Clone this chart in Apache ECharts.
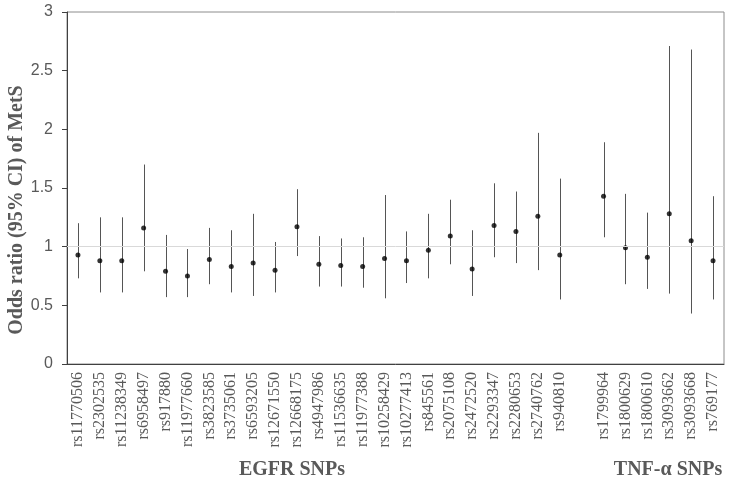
<!DOCTYPE html>
<html>
<head>
<meta charset="utf-8">
<script src="https://cdn.jsdelivr.net/npm/echarts@6/dist/echarts.min.js"></script>
<style>
	html, body { margin:0; padding:0; background:#fff; }
	#chart { width:732px; height:485px; }
</style>
</head>
<body>
<div id="chart"></div>
<script>
// SNP names, '' is the gap between the two gene groups
var snps = ['rs11770506','rs2302535','rs11238349','rs6958497','rs917880','rs11977660','rs3823585','rs3735061',
	'rs6593205','rs12671550','rs12668175','rs4947986','rs11536635','rs11977388','rs10258429','rs10277413',
	'rs845561','rs2075108','rs2472520','rs2293347','rs2280653','rs2740762','rs940810','',
	'rs1799964','rs1800629','rs1800610','rs3093662','rs3093668','rs769177'];
var oddsRatio = [0.93,0.88,0.88,1.16,0.79,0.75,0.89,0.83,0.86,0.80,1.17,0.85,0.84,0.83,0.90,0.88,
	0.97,1.09,0.81,1.18,1.13,1.26,0.93,null,1.43,0.99,0.91,1.28,1.05,0.88];
var ciLow = [0.73,0.61,0.61,0.79,0.57,0.57,0.68,0.61,0.58,0.61,0.92,0.66,0.66,0.65,0.56,0.69,
	0.73,0.85,0.58,0.91,0.86,0.80,0.55,null,1.08,0.68,0.64,0.60,0.43,0.55];
var ciHigh = [1.20,1.25,1.25,1.70,1.10,0.98,1.16,1.14,1.28,1.04,1.49,1.09,1.07,1.08,1.44,1.13,
	1.28,1.40,1.14,1.54,1.47,1.97,1.58,null,1.89,1.45,1.29,2.71,2.68,1.43];
var yTicks = [0, 0.5, 1, 1.5, 2, 2.5, 3];

var grey = '#595959';

var ciData = [];
var pointData = [];
for( var i = 0; i < snps.length; i++ ){
	if( oddsRatio[i] === null ){
		pointData.push( '-' );
		continue;
	}
	ciData.push( [i, ciLow[i], ciHigh[i]] );
	pointData.push( oddsRatio[i] );
}

var chart = echarts.init( document.getElementById( 'chart' ) );
chart.setOption( {
	animation:false,
	grid:{
		left:67, right:8, top:12, bottom:121,
		show:true,
		borderColor:'#8c8c8c',
		borderWidth:1,
		backgroundColor:'transparent'
	},
	xAxis:{
		type:'category',
		data:snps,
		axisLine:{ lineStyle:{ color:'#404040', width:1 } },
		axisTick:{ show:false },
		axisLabel:{
			interval:0,
			rotate:90,
			margin:8,
			fontFamily:'Liberation Serif',
			fontSize:16,
			color:grey
		}
	},
	yAxis:{
		type:'value',
		min:yTicks[0],
		max:yTicks[yTicks.length - 1],
		interval:0.5,
		splitLine:{ show:false },
		axisLine:{ show:true, lineStyle:{ color:'#404040', width:1 } },
		axisTick:{ show:true, length:5, lineStyle:{ color:'#404040' } },
		axisLabel:{
			margin:14,
			fontFamily:'Liberation Sans',
			fontSize:16,
			color:grey
		}
	},
	graphic:[
		{
			type:'text', x:17, y:210, rotation:Math.PI / 2,
			style:{ text:'Odds ratio (95% CI) of MetS', fontFamily:'Liberation Serif', fontWeight:'bold',
				fontSize:20, fill:grey, align:'center', verticalAlign:'middle' }
		},
		{
			type:'text', x:292, y:470,
			style:{ text:'EGFR SNPs', fontFamily:'Liberation Serif', fontWeight:'bold',
				fontSize:20, fill:grey, align:'center', verticalAlign:'middle' }
		},
		{
			type:'text', x:668, y:470,
			style:{ text:'TNF-α SNPs', fontFamily:'Liberation Serif', fontWeight:'bold',
				fontSize:20, fill:grey, align:'center', verticalAlign:'middle' }
		}
	],
	series:[
		{
			type:'custom',
			data:ciData,
			renderItem:function(params, api){
				var lo = api.coord( [api.value( 0 ), api.value( 1 )] );
				var hi = api.coord( [api.value( 0 ), api.value( 2 )] );
				var x = Math.round( lo[0] ) + 0.5;
				return {
					type:'line',
					shape:{ x1:x, y1:lo[1], x2:x, y2:hi[1] },
					style:{ stroke:'#555', lineWidth:1 }
				};
			},
			markLine:{
				silent:true,
				symbol:'none',
				label:{ show:false },
				lineStyle:{ color:'#d9d9d9', width:1, type:'solid' },
				data:[ { yAxis:1 } ]
			},
			z:2
		},
		{
			type:'scatter',
			data:pointData,
			symbol:'circle',
			symbolSize:5,
			itemStyle:{ color:'#000' },
			z:3
		}
	]
} );
</script>
</body>
</html>
